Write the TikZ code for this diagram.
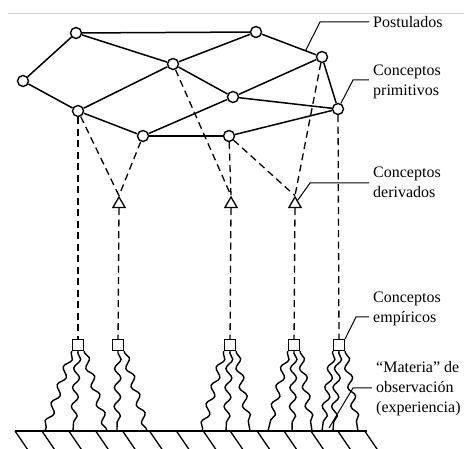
\documentclass[tikz,border=0pt]{standalone}
\usepackage{fontspec}
\setmainfont{Liberation Serif}
\usepackage{tikz}
\usetikzlibrary{shapes.geometric}
\usetikzlibrary{decorations.pathmorphing}
\usetikzlibrary{calc}
\tikzset{% styles of the theory net
        post/.style={circle, draw, fill=white, line width=1.4pt, minimum size=11pt, inner sep=0pt},
        deriv/.style={regular polygon, regular polygon sides=3, draw, fill=white, line width=1.3pt, minimum size=14pt, inner sep=0pt},
        empir/.style={rectangle, draw, fill=white, line width=1.3pt, minimum size=11pt, inner sep=0pt},
        net/.style={line width=1.5pt},
        rule/.style={line width=1.3pt, dash pattern=on 7pt off 4.5pt},
        wave/.style={line width=1.4pt, decorate, decoration={snake, amplitude=3.2pt, segment length=19pt, pre length=2pt, post length=2pt}},
        leader/.style={line width=1pt},
        lbl/.style={anchor=west, align=left, inner xsep=4pt, inner ysep=0pt, font=\fontsize{16}{20}\selectfont}
        }

\begin{document}
\begin{tikzpicture}[x=1pt, y=-1pt]
\useasboundingbox (0,0) rectangle (464,449);
\draw[gray!35, line width=0.8pt] (8,13) -- (464,13);

% postulados y conceptos primitivos
\node[post] (p1) at (76,33) {};
\node[post] (p2) at (256,32) {};
\node[post] (p3) at (322,57) {};
\node[post] (p4) at (23,81) {};
\node[post] (p5) at (173,64) {};
\node[post] (p6) at (233,97) {};
\node[post] (p7) at (338,109) {};
\node[post] (p8) at (78,111) {};
\node[post] (p9) at (143,136) {};
\node[post] (p10) at (229,136) {};

\draw[net] (p1) -- (p2);
\draw[net] (p1) -- (p4);
\draw[net] (p1) -- (p5);
\draw[net] (p2) -- (p5);
\draw[net] (p2) -- (p3);
\draw[net] (p4) -- (p8);
\draw[net] (p8) -- (p5);
\draw[net] (p5) -- (p6);
\draw[net] (p3) -- (p6);
\draw[net] (p3) -- (p7);
\draw[net] (p6) -- (p7);
\draw[net] (p8) -- (p9);
\draw[net] (p9) -- (p6);
\draw[net] (p9) -- (p10);
\draw[net] (p10) -- (p7);

% conceptos derivados
\node[deriv] (d1) at (119,204) {};
\node[deriv] (d2) at (231,204) {};
\node[deriv] (d3) at (295,204) {};

% conceptos empiricos
\node[empir] (e1) at (78,345) {};
\node[empir] (e2) at (118,345) {};
\node[empir] (e3) at (230,345) {};
\node[empir] (e4) at (294,345) {};
\node[empir] (e5) at (339,345) {};

\draw[rule] (p8) -- (e1);
\draw[rule] (p8) -- (d1.north);
\draw[rule] (p9) -- (d1.north);
\draw[rule] (p5) -- (d2.north);
\draw[rule] (p10) -- (d2.north);
\draw[rule] (p10) -- (d3.north);
\draw[rule] (p3) -- (d3.north);
\draw[rule] (p7) -- (e5);
\draw[rule] (d1) -- (e2);
\draw[rule] (d2) -- (e3);
\draw[rule] (d3) -- (e4);

% observacion
\foreach \n/\x in {1/45, 2/73, 3/107, 4/117, 5/147, 6/202, 7/226, 8/250, 9/268, 10/292, 11/312, 12/322, 13/333, 14/358}
  \coordinate (g\n) at (\x,431);
\foreach \s/\a/\g in {e1/south west/1, e1/south/2, e1/south east/3, e2/south/4, e2/south east/5, e3/south west/6, e3/south/7, e3/south east/8, e4/south west/9, e4/south/10, e4/south east/11, e5/south west/12, e5/south/13, e5/south east/14}
  \draw[wave] (\s.\a) -- (g\g);

\draw[line width=1.3pt] (15,431) -- (367,431);
\foreach \i in {0,...,13}
  \draw[line width=1.3pt] (15+26.9*\i,431) -- (28+26.9*\i,450);

% textos
\node[lbl] (postulados) at (369,22) {Postulados};
\node[lbl] (primitivos) at (369,82) {Conceptos\\primitivos};
\node[lbl] (derivados) at (369,182) {Conceptos\\derivados};
\node[lbl] (empiricos) at (369,309) {Conceptos\\empíricos};
\node[lbl] (materia) at (372,389) {“Materia” de\\observación\\(experiencia)};

\coordinate (k1) at (320,22);
\coordinate (k2) at (353,80);
\coordinate (k3) at (310,183);
\coordinate (k4) at (356,317);
\coordinate (m0) at (329,428);
\coordinate (m1) at (353,388);
\draw[leader] ($(p2)!0.75!(p3)$) -- (k1) -- (k1 -| postulados.west);
\draw[leader] (p7) -- (k2) -- (k2 -| primitivos.west);
\draw[leader] (d3) -- (k3) -- (k3 -| derivados.west);
\draw[leader] (e5.north east) -- (k4) -- (k4 -| empiricos.west);
\draw[leader] (m0) -- (m1) -- (m1 -| materia.west);
\end{tikzpicture}
\end{document}
